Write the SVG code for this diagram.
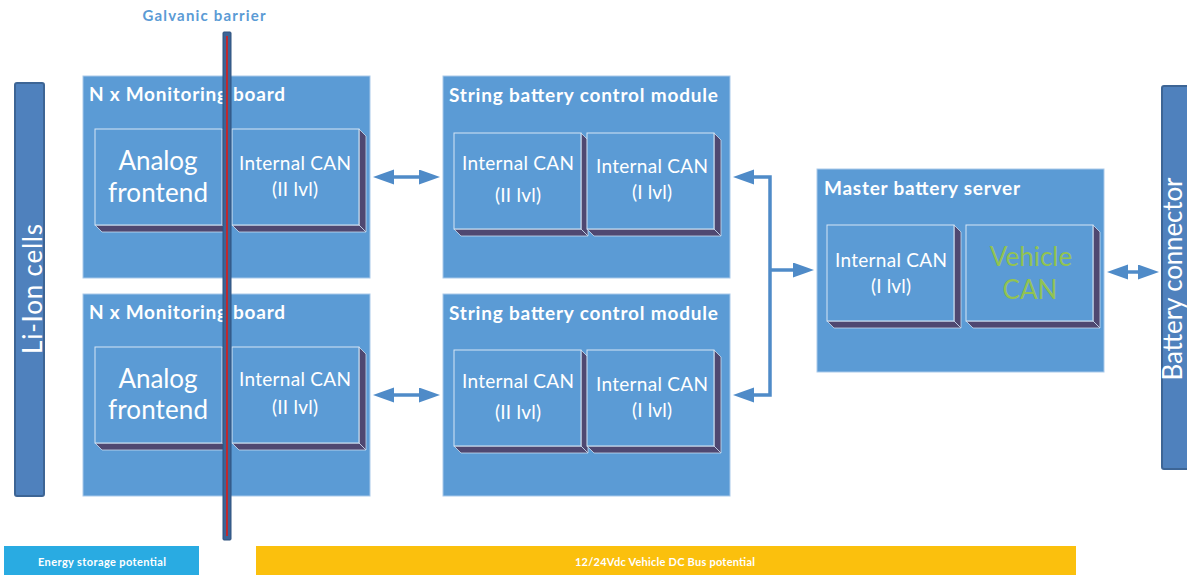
<svg xmlns="http://www.w3.org/2000/svg" xmlns:xlink="http://www.w3.org/1999/xlink" width="1187" height="575" viewBox="0 0 1187 575">
<style>
.board{fill:#5b9bd5;stroke:#a9c9ea;stroke-width:1}
.face{fill:#5b9bd5;stroke:#d6e6f5;stroke-width:1}
.bev{fill:#4f4871;stroke:#c9dcf0;stroke-width:0.8}
.title{font-family:Lato,"Liberation Sans",sans-serif;font-weight:bold;font-size:19px;fill:#ffffff}
.lbl{font-family:Lato,"Liberation Sans",sans-serif;font-size:19px;fill:#ffffff;text-anchor:middle}
.big{font-family:Lato,"Liberation Sans",sans-serif;font-size:26px;fill:#ffffff;text-anchor:middle}
.veh{fill:#92c352}
.bar{fill:#4f81bd;stroke:#3d6595;stroke-width:2}
.conn{fill:none;stroke:#4f8bc8;stroke-width:3.5}
.bottom{font-family:Lato,"Liberation Sans",sans-serif;font-weight:bold;font-size:11px;fill:#ffffff;text-anchor:middle}
</style>
<defs>
<g id="cube">
<polygon class="bev" points="0,96 127,96 134,103 7,103"/>
<polygon class="bev" points="127,0 134,7 134,103 127,96"/>
<rect class="face" x="0" y="0" width="127" height="96"/>
</g>
<marker id="ah" markerUnits="userSpaceOnUse" markerWidth="22" markerHeight="16" refX="1" refY="7.5" orient="auto-start-reverse">
<path d="M0,0 L21,7.5 L0,15 Z" fill="#4f8bc8"/>
</marker>
</defs>
<rect width="1187" height="575" fill="#ffffff"/>

<g id="li-ion-cells">
<rect class="bar" x="15" y="83" width="29" height="413" rx="2"/>
<text class="big" font-size="25" transform="translate(32,289) rotate(-90)" dominant-baseline="central" textLength="130">Li-Ion cells</text>
</g>

<g id="battery-connector">
<rect class="bar" x="1162" y="86" width="32" height="383" rx="2"/>
<text class="big" font-size="21" transform="translate(1172,279) rotate(-90)" dominant-baseline="central" textLength="203">Battery connector</text>
</g>

<g id="monitoring-board-1">
<rect class="board" x="83" y="76" width="287" height="202"/>
<text class="title" x="89" y="101" textLength="196">N x Monitoring board</text>
<use xlink:href="#cube" x="95" y="129"/>
<use xlink:href="#cube" x="232" y="129"/>
<text class="big" x="158" y="170" textLength="79">Analog</text>
<text class="big" x="158" y="202" textLength="100">frontend</text>
<text class="lbl" x="295" y="170" textLength="112">Internal CAN</text>
<text class="lbl" x="295" y="196" textLength="46">(II lvl)</text>
</g>

<g id="monitoring-board-2">
<rect class="board" x="83" y="294" width="287" height="202"/>
<text class="title" x="89" y="319" textLength="196">N x Monitoring board</text>
<use xlink:href="#cube" x="95" y="347"/>
<use xlink:href="#cube" x="232" y="347"/>
<text class="big" x="158" y="388" textLength="79">Analog</text>
<text class="big" x="158" y="419" textLength="100">frontend</text>
<text class="lbl" x="295" y="386" textLength="112">Internal CAN</text>
<text class="lbl" x="295" y="414" textLength="46">(II lvl)</text>
</g>

<g id="string-bcm-1">
<rect class="board" x="443" y="76" width="287" height="202"/>
<text class="title" x="449" y="102" textLength="269">String battery control module</text>
<use xlink:href="#cube" x="454" y="133"/>
<use xlink:href="#cube" x="587" y="133"/>
<text class="lbl" x="518" y="170" textLength="112">Internal CAN</text>
<text class="lbl" x="518" y="202" textLength="46">(II lvl)</text>
<text class="lbl" x="652" y="173" textLength="112">Internal CAN</text>
<text class="lbl" x="652" y="199" textLength="40">(I lvl)</text>
</g>

<g id="string-bcm-2">
<rect class="board" x="443" y="294" width="287" height="202"/>
<text class="title" x="449" y="320" textLength="269">String battery control module</text>
<use xlink:href="#cube" x="454" y="350"/>
<use xlink:href="#cube" x="587" y="350"/>
<text class="lbl" x="518" y="388" textLength="112">Internal CAN</text>
<text class="lbl" x="518" y="419" textLength="46">(II lvl)</text>
<text class="lbl" x="652" y="391" textLength="112">Internal CAN</text>
<text class="lbl" x="652" y="417" textLength="40">(I lvl)</text>
</g>

<g id="master-battery-server">
<rect class="board" x="817" y="169" width="287" height="203"/>
<text class="title" x="824" y="195" textLength="196">Master battery server</text>
<use xlink:href="#cube" x="827" y="225"/>
<use xlink:href="#cube" x="966" y="225"/>
<text class="lbl" x="891" y="267" textLength="112">Internal CAN</text>
<text class="lbl" x="891" y="293" textLength="40">(I lvl)</text>
<text class="big veh" x="1031" y="266" font-size="27">Vehicle</text>
<text class="big veh" x="1030" y="299" font-size="27">CAN</text>
</g>

<g id="connectors">
<line class="conn" x1="393" y1="177" x2="420" y2="177" marker-start="url(#ah)" marker-end="url(#ah)"/>
<line class="conn" x1="393" y1="395" x2="420" y2="395" marker-start="url(#ah)" marker-end="url(#ah)"/>
<path class="conn" d="M753,177 H770 V395 H753" marker-start="url(#ah)" marker-end="url(#ah)"/>
<path class="conn" d="M770,270 H794" marker-end="url(#ah)"/>
<line class="conn" x1="1127" y1="272" x2="1139" y2="272" marker-start="url(#ah)" marker-end="url(#ah)"/>
</g>

<g id="galvanic-barrier">
<rect x="223" y="32" width="8" height="508" rx="1" fill="#3d6496" stroke="#2f527e" stroke-width="1"/>
<line x1="227" y1="36" x2="227" y2="536" stroke="#c0282e" stroke-width="2"/>
<text x="204" y="21" font-family="Lato,'Liberation Sans',sans-serif" font-weight="bold" font-size="15" fill="#5b9bd5" text-anchor="middle" textLength="123">Galvanic barrier</text>
</g>

<g id="energy-storage-potential">
<rect x="4" y="546" width="195" height="29" fill="#29abe2"/>
<text class="bottom" x="102" y="566" textLength="128">Energy storage potential</text>
</g>

<g id="dc-bus-potential">
<rect x="256" y="546" width="820" height="29" fill="#fbc00d"/>
<text class="bottom" x="665" y="566" textLength="180">12/24Vdc Vehicle DC Bus potential</text>
</g>
</svg>
